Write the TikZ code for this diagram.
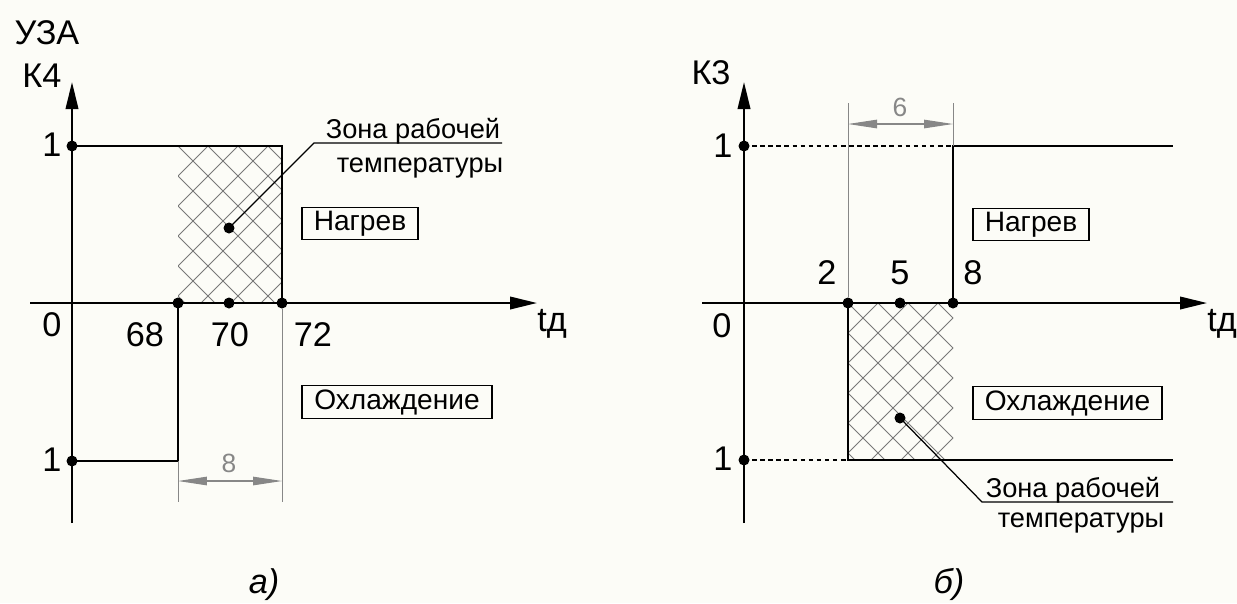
\documentclass[tikz,border=0pt]{standalone}
\usepackage{fontspec}
\setmainfont{Liberation Sans}
\usetikzlibrary{arrows.meta,positioning}

\definecolor{dimgray}{RGB}{135,135,135}
\definecolor{hatchgray}{RGB}{120,120,120}
\definecolor{paper}{RGB}{252,252,247}

\begin{document}
\begin{tikzpicture}[
    x=0.02cm, y=-0.02cm,
    axis/.style={-{Triangle[length=0.54cm,width=0.25cm]}, line width=1.2pt},
    graph/.style={line width=1.1pt},
    dashline/.style={line width=1pt, dash pattern=on 2.6pt off 2pt},
    hatch/.style={draw=hatchgray, line width=0.55pt},
    dimline/.style={draw=dimgray, line width=0.5pt},
    dimarrow/.style={dimgray, line width=0.6pt, {Triangle[length=0.58cm,width=0.17cm]}-{Triangle[length=0.58cm,width=0.17cm]}},
    dot/.style={circle, fill, inner sep=0pt, minimum size=0.22cm},
    lbl/.style={inner sep=0pt, font=\fontsize{19.5}{22}\selectfont},
    dimlbl/.style={inner sep=0pt, text=dimgray, font=\fontsize{15}{17}\selectfont},
    zonetxt/.style={inner sep=0pt, anchor=base, font=\fontsize{15.5}{18}\selectfont},
    modebox/.style={draw, line width=0.8pt, inner sep=0pt, minimum height=0.65cm, font=\fontsize{16}{18}\selectfont},
    leader/.style={line width=0.7pt}
]
\fill[paper] (0,0) rectangle (1237,603);
\useasboundingbox (0,0) rectangle (1237,603);

% ---- a) ----
\begin{scope}
\clip (178,146) rectangle (282,303);
\foreach \k in {-7,...,10} {
    \draw[hatch] ({178+\k*30},146) -- ++(170,170);
    \draw[hatch] ({178+\k*30},146) -- ++(-170,170);
}
\end{scope}
\coordinate (ayb) at (72,523);
\coordinate (ayt) at (72,82);
\coordinate (axl) at (30,303);
\coordinate (axr) at (537,303);
\draw[axis] (ayb) -- (ayt);
\draw[axis] (axl) -- (axr);
\node[dot] (a1t) at (72,146) {};
\node[dot] (a1b) at (72,461) {};
\node[dot] (a68) at (178,303) {};
\node[dot] (a70) at (229,303) {};
\node[dot] (a72) at (282,303) {};
\node[dot] (azone) at (229,228) {};
\draw[graph] (a1t.center) -- (a72 |- a1t) -- (a72.center);
\draw[graph] (a1b.center) -- (a68 |- a1b) -- (a68.center);
\coordinate (adl) at (178,502);
\coordinate (adr) at (282,502);
\draw[dimline] (a68 |- a1b) -- (adl);
\draw[dimline] (a72) -- (adr);
\draw[dimarrow] (178,481) -- (282,481);
\node[dimlbl] (a8) at (229,463) {8};
\coordinate (akink) at (314,143);
\coordinate (aend) at (502,143);
\draw[leader] (azone.center) -- (akink) -- (aend);
\node[zonetxt] (azone1) at (413,138) {Зона рабочей};
\node[zonetxt] (azone2) at (420,172) {температуры};
\node[modebox, minimum width=2.32cm] (aheat) at (360,223.5) {Нагрев};
\node[modebox, minimum width=3.8cm] (acool) at (397,402) {Охлаждение};
\node[lbl] (ay1) at (47,33) {УЗА};
\node[lbl] (ay2) at (42,76) {К4};
\node[lbl] (aone) at (52,145) {1};
\node[lbl] (aoneb) at (52,460) {1};
\node[lbl] (azero) at (52,325) {0};
\node[lbl] (a68l) at (145,335) {68};
\node[lbl] (a70l) at (230,335) {70};
\node[lbl] (a72l) at (313,335) {72};
\node[lbl, anchor=base] (atd) at (552,331) {tд};
\node[lbl, font=\fontsize{19.5}{22}\selectfont\itshape] (acap) at (264,585) {а)};

% ---- б) ----
\begin{scope}
\clip (848,303) rectangle (953,460);
\foreach \k in {-7,...,10} {
    \draw[hatch] ({848+\k*30},303) -- ++(170,170);
    \draw[hatch] ({848+\k*30},303) -- ++(-170,170);
}
\end{scope}
\coordinate (byb) at (744,523);
\coordinate (byt) at (744,82);
\coordinate (bxl) at (702,303);
\coordinate (bxr) at (1207,303);
\draw[axis] (byb) -- (byt);
\draw[axis] (bxl) -- (bxr);
\node[dot] (b1t) at (744,146) {};
\node[dot] (b1b) at (744,460) {};
\node[dot] (b2) at (848,303) {};
\node[dot] (b5) at (900,303) {};
\node[dot] (b8) at (953,303) {};
\node[dot] (bzone) at (900,418) {};
\coordinate (btend) at (1173,146);
\coordinate (bbend) at (1173,460);
\draw[dashline] (b1t.center) -- (b8 |- b1t);
\draw[graph] (b8.center) -- (b8 |- b1t) -- (btend);
\draw[dashline] (b1b.center) -- (b2 |- b1b);
\draw[graph] (b2.center) -- (b2 |- b1b) -- (bbend);
\coordinate (bdl) at (848,103);
\coordinate (bdr) at (953,103);
\draw[dimline] (b2) -- (bdl);
\draw[dimline] (b8 |- b1t) -- (bdr);
\draw[dimarrow] (848,124) -- (953,124);
\node[dimlbl] (b6) at (900,107) {6};
\coordinate (bkink) at (982,502);
\coordinate (bend) at (1173,502);
\draw[leader] (bzone.center) -- (bkink) -- (bend);
\node[zonetxt] (bzone1) at (1073,497) {Зона рабочей};
\node[zonetxt] (bzone2) at (1081,527) {температуры};
\node[modebox, minimum width=2.32cm] (bheat) at (1031,224.5) {Нагрев};
\node[modebox, minimum width=3.78cm] (bcool) at (1067.5,403) {Охлаждение};
\node[lbl] (by) at (711,73) {К3};
\node[lbl] (bone) at (723,146) {1};
\node[lbl] (boneb) at (723,459) {1};
\node[lbl] (bzero) at (722,326) {0};
\node[lbl] (b2l) at (827,273) {2};
\node[lbl] (b5l) at (900,273) {5};
\node[lbl] (b8l) at (973,273) {8};
\node[lbl, anchor=base] (btd) at (1222,331) {tд};
\node[lbl, font=\fontsize{19.5}{22}\selectfont\itshape] (bcap) at (949,584) {б)};
\end{tikzpicture}
\end{document}
